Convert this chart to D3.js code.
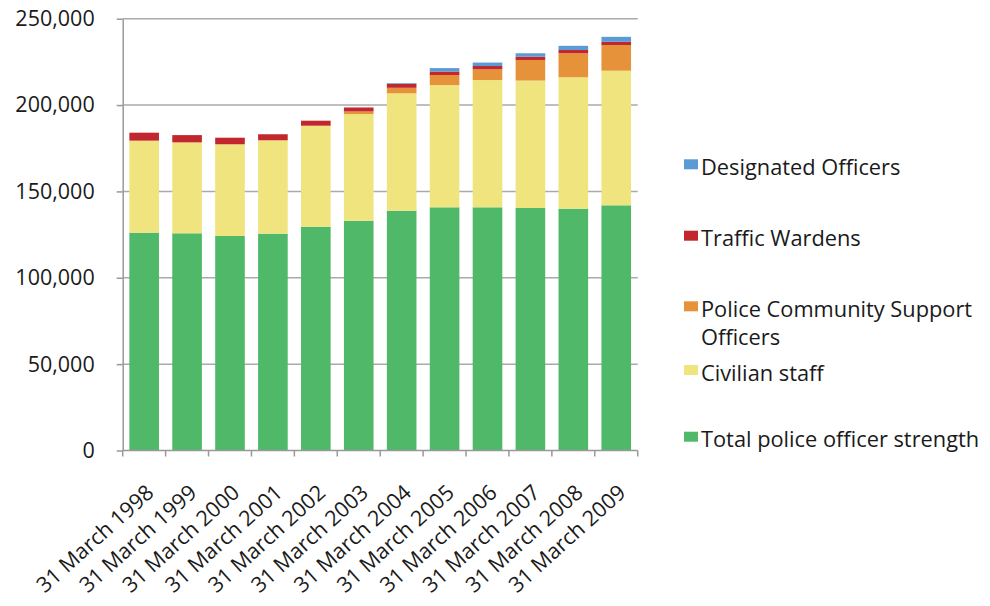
<!DOCTYPE html>
<html>
<head>
<meta charset="utf-8">
<script src="https://cdn.jsdelivr.net/npm/d3@7"></script>
<style>
  html, body { margin: 0; padding: 0; background: #fff; }
  svg { display: block; }
  text { font-family: "Open Sans", "Noto Sans", sans-serif; fill: #1a1a1a; font-weight: 500; }
</style>
</head>
<body>
<svg id="chart" width="990" height="606"></svg>
<script>
const categories = ["31 March 1998","31 March 1999","31 March 2000","31 March 2001","31 March 2002","31 March 2003","31 March 2004","31 March 2005","31 March 2006","31 March 2007","31 March 2008","31 March 2009"];
const policeOfficers = [126100,125750,124190,125520,129570,133050,138840,140800,140800,140400,140000,141960];
const civilianStaff  = [53300,52650,53110,54080,58480,61750,67960,70800,73700,73800,76100,77940];
const pcsos          = [0,0,0,0,0,1500,3200,5800,6200,11900,13900,14800];
const trafficWardens = [4600,4200,3800,3500,2900,2300,2300,2000,1900,1900,1900,1900];
const designated     = [0,0,0,0,0,0,400,2000,2000,2000,2400,2900];
const yTicks = [0,50000,100000,150000,200000,250000];

const seriesNames = ["Total police officer strength","Civilian staff","Police Community Support Officers","Traffic Wardens","Designated Officers"];
const seriesKeys = ["officers","civilian","pcso","wardens","designated"];
const colors = {officers:"#4fb969", civilian:"#efe47e", pcso:"#e5923a", wardens:"#c1272d", designated:"#5b9bd5"};

const rows = categories.map((c,i)=>({cat:c, officers:policeOfficers[i], civilian:civilianStaff[i], pcso:pcsos[i], wardens:trafficWardens[i], designated:designated[i]}));

const svg = d3.select("#chart");
const pLeft = 122.7, pRight = 637.7, pTop = 18.7, pBottom = 450.5;

const x = d3.scaleBand().domain(categories).range([pLeft,pRight]).paddingInner(0.31).paddingOuter(0.155);
const y = d3.scaleLinear().domain([0,250000]).range([pBottom,pTop]);

// gridlines
svg.append("g").selectAll("line").data(yTicks.filter(d=>d>0)).join("line")
  .attr("x1",pLeft).attr("x2",pRight)
  .attr("y1",d=>y(d)).attr("y2",d=>y(d))
  .attr("stroke","#aaaaaa").attr("stroke-width",1.5);

// bars
const stack = d3.stack().keys(seriesKeys)(rows);
svg.append("g").selectAll("g").data(stack).join("g")
  .attr("fill",d=>colors[d.key])
  .selectAll("rect").data(d=>d).join("rect")
  .attr("x",d=>x(d.data.cat))
  .attr("width",x.bandwidth())
  .attr("y",d=>y(d[1]))
  .attr("height",d=>Math.max(0,y(d[0])-y(d[1])));

// y axis
const yAxis = d3.axisLeft(y).tickValues(yTicks).tickSize(6).tickSizeOuter(0).tickPadding(22)
  .tickFormat(d3.format(","));
const gy = svg.append("g").attr("transform",`translate(${pLeft},0)`).call(yAxis);
gy.select(".domain").attr("stroke","#999").attr("stroke-width",1.5);
gy.selectAll(".tick line").attr("stroke","#999").attr("stroke-width",1.5);
gy.selectAll(".tick text").attr("font-size",21.5).attr("font-family","'Open Sans', sans-serif").attr("font-weight",500).attr("fill","#1a1a1a");

// x axis: baseline and ticks at band boundaries
const step = x.step();
const boundaries = d3.range(categories.length+1).map(i=>pLeft + i*step);
svg.append("line").attr("x1",pLeft).attr("x2",pRight).attr("y1",pBottom).attr("y2",pBottom)
  .attr("stroke","#999").attr("stroke-width",1.5);
svg.append("g").selectAll("line").data(boundaries).join("line")
  .attr("x1",d=>d).attr("x2",d=>d).attr("y1",pBottom).attr("y2",pBottom+6)
  .attr("stroke","#999").attr("stroke-width",1.5);

svg.append("g").selectAll("text").data(categories).join("text")
  .attr("transform",d=>`translate(${x(d)+x.bandwidth()/2+11},${pBottom+44}) rotate(-42)`)
  .attr("text-anchor","end")
  .attr("font-size",21.5)
  .text(d=>d);

// legend
const legendItems = [
  {key:"designated", lines:["Designated Officers"], y:159.3},
  {key:"wardens", lines:["Traffic Wardens"], y:230.7},
  {key:"pcso", lines:["Police Community Support","Officers"], y:301.3},
  {key:"civilian", lines:["Civilian staff"], y:365},
  {key:"officers", lines:["Total police officer strength"], y:431.7}
];
const lg = svg.append("g");
legendItems.forEach(it=>{
  lg.append("rect").attr("x",684).attr("y",it.y).attr("width",14).attr("height",10).attr("fill",colors[it.key]);
  it.lines.forEach((ln,j)=>{
    lg.append("text").attr("x",701).attr("y",it.y+15.5+j*28.5).attr("font-size",21.8).text(ln);
  });
});
</script>
</body>
</html>
